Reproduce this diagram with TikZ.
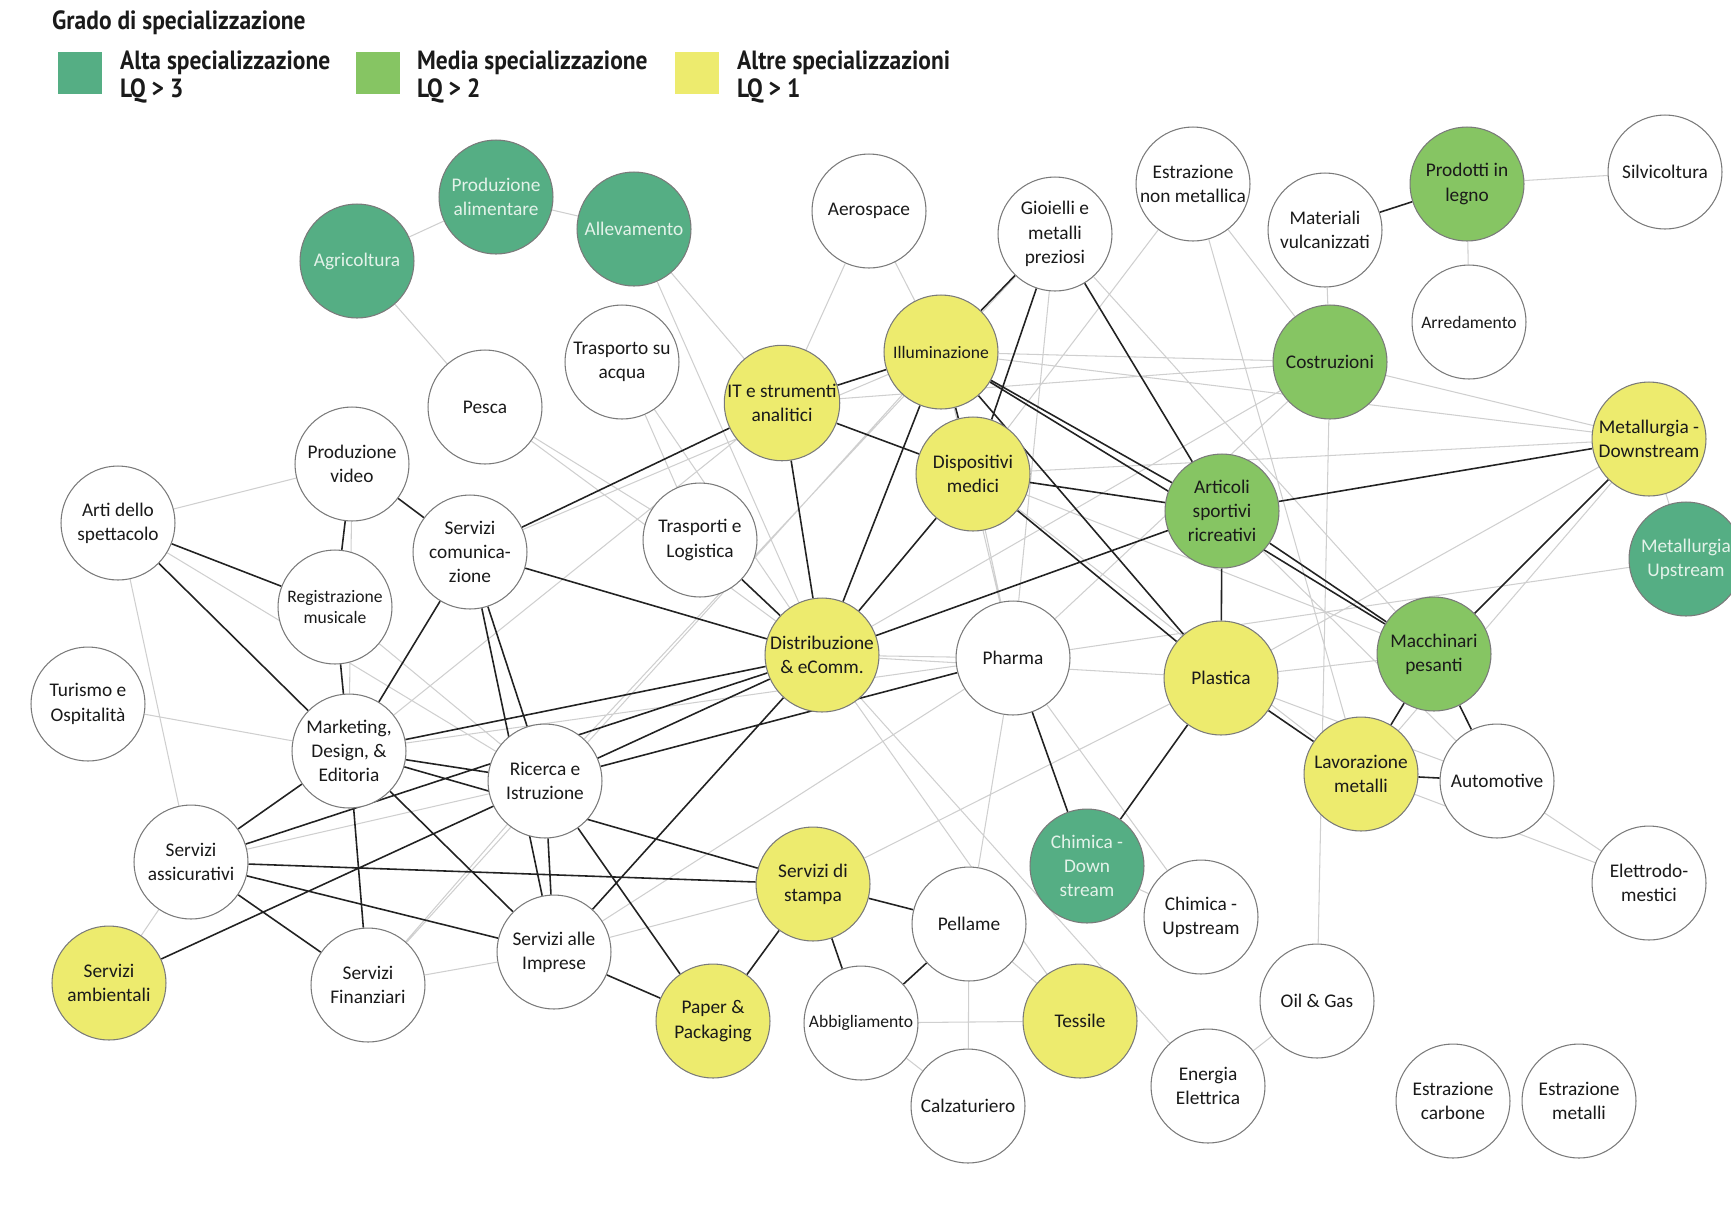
\documentclass[tikz,border=0pt]{standalone}
\usepackage{fontspec}
\setmainfont{Carlito}
\newfontfamily\legendfont[FakeStretch=0.89]{PT Sans Bold}
\usepackage{tikz}
\usetikzlibrary{backgrounds}

\definecolor{altagreen}{HTML}{55AE84}
\definecolor{mediagreen}{HTML}{86C563}
\definecolor{altreyellow}{HTML}{EDEB6E}
\definecolor{ringgray}{HTML}{7A7A7A}
\definecolor{weakgray}{HTML}{CFCFCF}
\definecolor{strongink}{HTML}{222222}
\definecolor{paletext}{HTML}{E3F2E9}
\definecolor{inktext}{HTML}{1A1A1A}

\tikzset{
  sector/.style={circle, draw=ringgray, line width=0.6pt, fill=white,
    minimum size=2.28cm, inner sep=0pt, align=center, text=inktext,
    font=\fontsize{11}{13.8}\selectfont},
  alta/.style={sector, fill=altagreen, text=paletext},
  media/.style={sector, fill=mediagreen},
  altre/.style={sector, fill=altreyellow},
  small/.style={font=\fontsize{10}{12.5}\selectfont},
  weak/.style={draw=weakgray, line width=0.6pt},
  strong/.style={draw=strongink, line width=0.9pt},
  keybox/.style={minimum width=0.87cm, minimum height=0.84cm, inner sep=0pt},
  keytext/.style={anchor=west, align=left, text=inktext,
    font=\legendfont\fontsize{15}{16.2}\selectfont}
}

\begin{document}
\begin{tikzpicture}[x=0.02cm, y=-0.02cm]
  \useasboundingbox (0,0) rectangle (1731,1205);
  \clip (0,0) rectangle (1731,1205);

  % legend
  \node[anchor=west, text=inktext, font=\legendfont\fontsize{15}{18}\selectfont] (title) at (46,23) {Grado di specializzazione};
  \node[keybox, fill=altagreen] (kalta) at (80,73) {};
  \node[keytext] (talta) at (114,77) {Alta specializzazione\\LQ > 3};
  \node[keybox, fill=mediagreen] (kmedia) at (378,73) {};
  \node[keytext] (tmedia) at (411,77) {Media specializzazione\\LQ > 2};
  \node[keybox, fill=altreyellow] (kaltre) at (697,73) {};
  \node[keytext] (taltre) at (731,77) {Altre specializzazioni\\LQ > 1};

  % top sectors
  \node[alta] (agri) at (357,261) {Agricoltura};
  \node[alta] (food) at (496,197) {Produzione\\alimentare};
  \node[alta] (allev) at (634,229) {Allevamento};
  \node[sector] (aero) at (869,211) {Aerospace};
  \node[sector] (gioi) at (1055,234) {Gioielli e\\metalli\\preziosi};
  \node[sector] (estnm) at (1193,184) {Estrazione\\non metallica};
  \node[sector] (mvulc) at (1325,230) {Materiali\\vulcanizzati};
  \node[media] (legno) at (1467,184) {Prodotti in\\legno};
  \node[sector] (silvi) at (1665,172) {Silvicoltura};
  \node[sector, small] (arred) at (1469,322) {Arredamento};
  \node[media] (costr) at (1330,362) {Costruzioni};
  \node[sector] (tacqua) at (622,362) {Trasporto su\\acqua};
  \node[sector] (pesca) at (485,407) {Pesca};
  \node[altre] (itstr) at (782,403) {IT e strumenti\\analitici};
  \node[altre, small] (illum) at (941,352) {Illuminazione};
  \node[altre] (dispmed) at (973,474) {Dispositivi\\medici};
  \node[altre] (metdown) at (1649,439) {Metallurgia -\\Downstream};
  \node[alta] (metup) at (1686,559) {Metallurgia\\Upstream};

  % middle sectors
  \node[sector] (video) at (352,464) {Produzione\\video};
  \node[sector] (arti) at (118,523) {Arti dello\\spettacolo};
  \node[sector] (scom) at (470,552) {Servizi\\comunica-\\zione};
  \node[sector, small] (regmus) at (335,607) {Registrazione\\musicale};
  \node[sector] (tlog) at (700,540) {Trasporti e\\Logistica};
  \node[media] (artsport) at (1222,511) {Articoli\\sportivi\\ricreativi};
  \node[altre] (distr) at (822,655) {Distribuzione\\\& eComm.};
  \node[sector] (pharma) at (1013,658) {Pharma};
  \node[altre] (plast) at (1221,678) {Plastica};
  \node[media] (macch) at (1434,654) {Macchinari\\pesanti};
  \node[sector] (turismo) at (88,704) {Turismo e\\Ospitalità};
  \node[sector] (mkt) at (349,751) {Marketing,\\Design, \&\\Editoria};
  \node[sector] (ricerca) at (545,781) {Ricerca e\\Istruzione};
  \node[altre] (lavmet) at (1361,774) {Lavorazione\\metalli};
  \node[sector] (auto) at (1497,781) {Automotive};

  % bottom sectors
  \node[alta] (chimdown) at (1087,866) {Chimica -\\Down\\stream};
  \node[sector] (chimup) at (1201,917) {Chimica -\\Upstream};
  \node[sector] (elettro) at (1649,883) {Elettrodo-\\mestici};
  \node[sector] (assic) at (191,862) {Servizi\\assicurativi};
  \node[altre] (stampa) at (813,884) {Servizi di\\stampa};
  \node[sector] (pellame) at (969,924) {Pellame};
  \node[sector] (sai) at (554,952) {Servizi alle\\Imprese};
  \node[altre] (ambient) at (109,983) {Servizi\\ambientali};
  \node[sector] (finanz) at (368,985) {Servizi\\Finanziari};
  \node[altre] (paper) at (713,1021) {Paper \&\\Packaging};
  \node[sector, small] (abbigl) at (861,1023) {Abbigliamento};
  \node[altre] (tessile) at (1080,1021) {Tessile};
  \node[sector] (oilgas) at (1317,1001) {Oil \& Gas};
  \node[sector] (energia) at (1208,1086) {Energia\\Elettrica};
  \node[sector] (calz) at (968,1106) {Calzaturiero};
  \node[sector] (estcarb) at (1453,1101) {Estrazione\\carbone};
  \node[sector] (estmet) at (1579,1101) {Estrazione\\metalli};

  \begin{scope}[on background layer]
    % weak links
    \draw[weak] (agri) -- (food) (food) -- (allev) (agri) -- (pesca)
      (allev) -- (itstr) (allev) -- (distr) (aero) -- (itstr) (aero) -- (illum)
      (legno) -- (silvi) (legno) -- (arred) (mvulc) -- (costr) (estnm) -- (costr)
      (estnm) -- (dispmed) (estnm) -- (lavmet) (costr) -- (oilgas) (costr) -- (metdown)
      (costr) -- (distr) (costr) -- (pharma) (illum) -- (costr) (illum) -- (metdown)
      (itstr) -- (costr) (dispmed) -- (metdown) (metdown) -- (metup) (metdown) -- (plast)
      (metdown) -- (lavmet) (metup) -- (pharma) (auto) -- (elettro) (lavmet) -- (elettro)
      (oilgas) -- (energia) (distr) -- (energia) (distr) -- (tessile) (chimdown) -- (chimup)
      (pharma) -- (pellame) (pharma) -- (chimup) (pellame) -- (calz) (pellame) -- (tessile)
      (abbigl) -- (tessile) (abbigl) -- (calz) (stampa) -- (plast) (sai) -- (stampa)
      (sai) -- (finanz) (ricerca) -- (finanz) (finanz) -- (illum) (assic) -- (ambient)
      (arti) -- (assic) (arti) -- (video) (arti) -- (ricerca) (turismo) -- (mkt)
      (video) -- (mkt) (regmus) -- (ricerca) (mkt) -- (itstr) (mkt) -- (pharma)
      (assic) -- (ricerca) (pesca) -- (tlog) (pesca) -- (distr) (tacqua) -- (tlog)
      (tacqua) -- (distr) (sai) -- (pharma) (gioi) -- (ricerca) (gioi) -- (pharma)
      (gioi) -- (macch) (dispmed) -- (pharma) (illum) -- (pharma) (dispmed) -- (macch)
      (dispmed) -- (lavmet) (artsport) -- (auto) (plast) -- (macch) (plast) -- (auto)
      (distr) -- (pharma) (distr) -- (plast) (scom) -- (illum);

    % strong links
    \draw[strong] (mvulc) -- (legno) (video) -- (scom) (video) -- (regmus)
      (arti) -- (regmus) (arti) -- (mkt) (regmus) -- (mkt) (scom) -- (mkt)
      (scom) -- (ricerca) (scom) -- (sai) (scom) -- (itstr) (scom) -- (distr)
      (itstr) -- (illum) (itstr) -- (dispmed) (itstr) -- (distr) (illum) -- (distr)
      (illum) -- (dispmed) (dispmed) -- (distr) (gioi) -- (illum) (gioi) -- (dispmed)
      (gioi) -- (artsport) (illum) -- (artsport) (illum) -- (macch) (illum) -- (plast)
      (dispmed) -- (artsport) (dispmed) -- (plast) (artsport) -- (metdown)
      (artsport) -- (plast) (artsport) -- (distr) (artsport) -- (macch)
      (macch) -- (metdown) (macch) -- (lavmet) (macch) -- (auto) (plast) -- (lavmet)
      (plast) -- (chimdown) (lavmet) -- (auto) (pharma) -- (chimdown) (pharma) -- (ricerca)
      (tlog) -- (distr) (distr) -- (mkt) (distr) -- (assic) (distr) -- (ambient)
      (distr) -- (sai) (mkt) -- (ricerca) (mkt) -- (stampa) (mkt) -- (sai)
      (mkt) -- (finanz) (mkt) -- (assic) (ricerca) -- (sai) (ricerca) -- (paper)
      (assic) -- (stampa) (assic) -- (sai) (assic) -- (finanz) (sai) -- (paper)
      (stampa) -- (paper) (stampa) -- (pellame) (stampa) -- (abbigl) (pellame) -- (abbigl);
  \end{scope}
\end{tikzpicture}
\end{document}
